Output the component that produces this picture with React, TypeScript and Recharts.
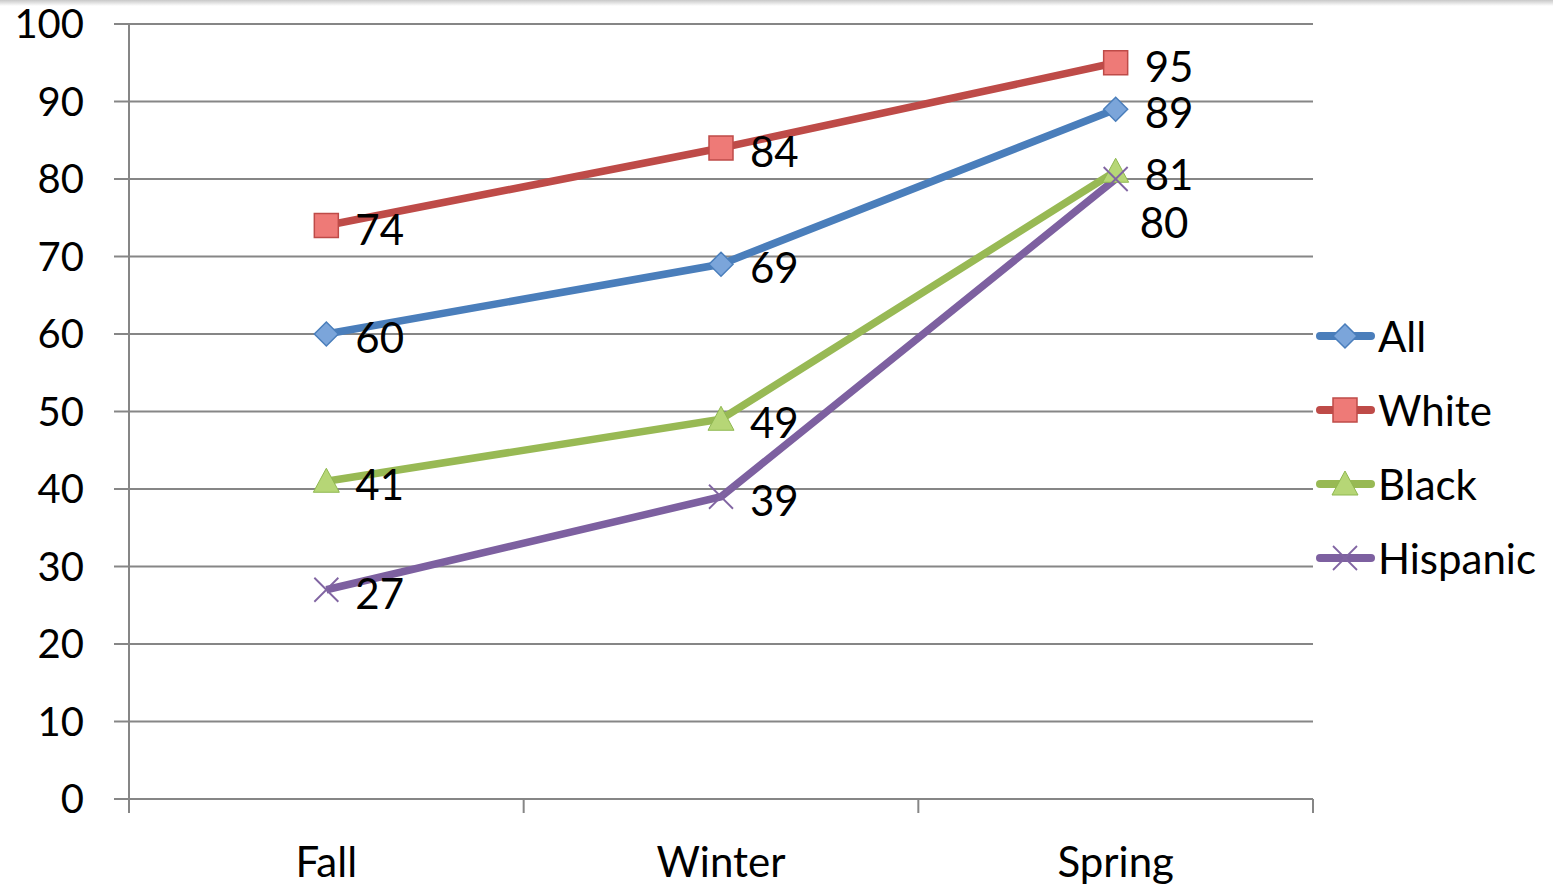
import React from "react";
import { LineChart, Line, XAxis, YAxis, CartesianGrid, LabelList } from "recharts";

const seasons = ["Fall", "Winter", "Spring"];
const allValues = [60, 69, 89];
const whiteValues = [74, 84, 95];
const blackValues = [41, 49, 81];
const hispanicValues = [27, 39, 80];
const yTicks = [0, 10, 20, 30, 40, 50, 60, 70, 80, 90, 100];
const xTicks = [0, 0.5, 1, 1.5, 2, 2.5, 3];

const data = seasons.map((name, i) => ({
  x: i + 0.5,
  name,
  All: allValues[i],
  White: whiteValues[i],
  Black: blackValues[i],
  Hispanic: hispanicValues[i],
}));

const FONT = "Lato, 'Open Sans', sans-serif";
const FS = 42;
const AXIS = "#868686";

type Kind = "diamond" | "square" | "triangle" | "cross";

const series: { key: string; color: string; fill: string; kind: Kind }[] = [
  { key: "All", color: "#4A7EBB", fill: "#7BA5DA", kind: "diamond" },
  { key: "White", color: "#BE4B48", fill: "#EE7A77", kind: "square" },
  { key: "Black", color: "#98B954", fill: "#B6D676", kind: "triangle" },
  { key: "Hispanic", color: "#7D60A0", fill: "#8064A2", kind: "cross" },
];

function Marker({ cx, cy, kind, color, fill }: { cx: number; cy: number; kind: Kind; color: string; fill: string }) {
  if (kind === "square") {
    return <rect x={cx - 12} y={cy - 12} width={24} height={24} fill={fill} stroke={color} strokeWidth={1.5} />;
  }
  if (kind === "diamond") {
    return (
      <polygon
        points={`${cx},${cy - 12} ${cx + 12},${cy} ${cx},${cy + 12} ${cx - 12},${cy}`}
        fill={fill}
        stroke={color}
        strokeWidth={1.5}
      />
    );
  }
  if (kind === "triangle") {
    return (
      <polygon
        points={`${cx},${cy - 13} ${cx + 13},${cy + 11} ${cx - 13},${cy + 11}`}
        fill={fill}
        stroke="#8FB850"
        strokeWidth={1}
      />
    );
  }
  return (
    <g stroke={fill} strokeWidth={1.8}>
      <line x1={cx - 12} y1={cy - 12} x2={cx + 12} y2={cy + 12} />
      <line x1={cx - 12} y1={cy + 12} x2={cx + 12} y2={cy - 12} />
    </g>
  );
}

function XTick(props: any) {
  const { x, y, payload } = props;
  const v = payload.value;
  if (Number.isInteger(v)) {
    return <line x1={x} y1={y} x2={x} y2={y + 14} stroke={AXIS} strokeWidth={2} />;
  }
  return (
    <text x={x} y={y + 62} textAnchor="middle" dominantBaseline="central" fontSize={FS} fontFamily={FONT} fill="#000">
      {seasons[Math.floor(v)]}
    </text>
  );
}

function makeLabel(key: string) {
  return (props: any) => {
    const { x, y, value, index } = props;
    let dx = 29;
    let dy = 3;
    if (key === "Hispanic" && index === 2) {
      dx = 24;
      dy = 43;
    }
    return (
      <text x={x + dx} y={y + dy} dominantBaseline="central" fontSize={FS} fontFamily={FONT} fill="#000">
        {value}
      </text>
    );
  };
}

export default function App() {
  return (
    <div style={{ position: "absolute", left: 0, top: 0, width: 1553, height: 885, background: "#fff", fontFamily: FONT }}>
      <div style={{ position: "absolute", left: 0, top: 0, width: 1553, height: 6, background: "linear-gradient(#c8c8c8, #ffffff)" }} />
      <LineChart width={1553} height={885} data={data} margin={{ top: 24, right: 240, bottom: 0, left: 0 }}>
        <CartesianGrid vertical={false} stroke={AXIS} strokeWidth={2} />
        <XAxis
          dataKey="x"
          type="number"
          domain={[0, 3]}
          ticks={xTicks}
          interval={0}
          height={86}
          axisLine={{ stroke: AXIS, strokeWidth: 2 }}
          tickLine={false}
          tickSize={0}
          tickMargin={0}
          tick={<XTick />}
        />
        <YAxis
          domain={[0, 100]}
          ticks={yTicks}
          interval={0}
          width={129}
          axisLine={{ stroke: AXIS, strokeWidth: 2 }}
          tickLine={{ stroke: AXIS, strokeWidth: 2 }}
          tickSize={15}
          tickMargin={30}
          tick={{ fontSize: 40, fontFamily: FONT, fill: "#000" }}
        />
        {series.map((s) => (
          <Line
            key={s.key}
            dataKey={s.key}
            stroke={s.color}
            strokeWidth={7.5}
            isAnimationActive={false}
            dot={(p: any) => <Marker key={p.index} cx={p.cx} cy={p.cy} kind={s.kind} color={s.color} fill={s.fill} />}
            activeDot={false}
          >
            <LabelList dataKey={s.key} content={makeLabel(s.key)} />
          </Line>
        ))}
      </LineChart>
      {series.map((s, i) => (
        <div key={s.key} style={{ position: "absolute", left: 1313, top: 336 + i * 74 - 25, height: 50, display: "flex", alignItems: "center" }}>
          <svg width={64} height={50}>
            <line x1={7} y1={25} x2={58} y2={25} stroke={s.color} strokeWidth={8} strokeLinecap="round" />
            <Marker cx={32} cy={25} kind={s.kind} color={s.color} fill={s.fill} />
          </svg>
          <span style={{ fontSize: FS, color: "#000", marginLeft: 1 }}>{s.key}</span>
        </div>
      ))}
    </div>
  );
}
